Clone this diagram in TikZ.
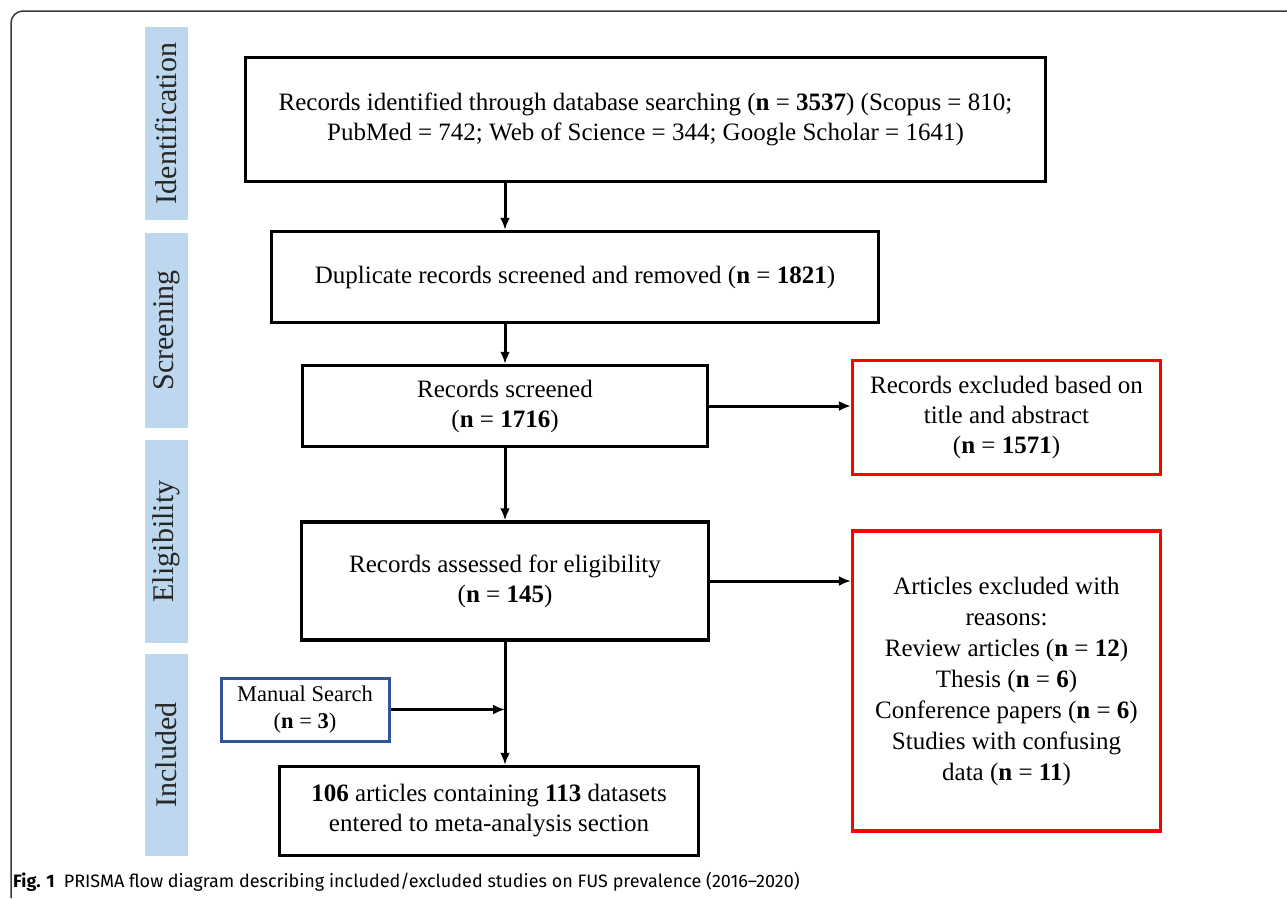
\documentclass[tikz,border=0pt]{standalone}
\usepackage{fontspec}
\setmainfont{Liberation Serif}
\newfontfamily\capfont{Fira Sans}
\usepackage{tikz}
\usetikzlibrary{arrows.meta}
\usetikzlibrary{positioning}

\definecolor{stageblue}{HTML}{BDD7EE}
\definecolor{exclred}{HTML}{FF0000}
\definecolor{manblue}{HTML}{2F5597}
\definecolor{framegray}{HTML}{3A3A3A}
\newcommand{\nval}[1]{(\textbf{n} = \textbf{#1})}

\begin{document}
\begin{tikzpicture}[x=1pt, y=-1pt, >={Latex[length=12pt,width=10pt]},
    stage/.style={fill=stageblue, rotate=90, minimum height=43pt, inner sep=0pt,
        text=black!85, font=\fontsize{30}{36}\selectfont},
    flowbox/.style={draw, line width=3.5pt, align=center, inner sep=0pt,
        font=\fontsize{25}{30}\selectfont},
    exclbox/.style={flowbox, draw=exclred, line width=3.2pt},
    manbox/.style={flowbox, draw=manblue, line width=3pt,
        font=\fontsize{22.5}{27}\selectfont},
    conn/.style={line width=3pt}]
        \useasboundingbox (0, 0) rectangle (1287, 898);

        % Frame
        \draw[framegray, line width=1.5pt, rounded corners=12pt] (11, 898) -- (11, 11) -- (1287, 11);

        % Stages
        \node[stage, minimum width=193pt] (idstage) at (166.5, 123.5) {Identification};
        \node[stage, minimum width=195pt] (scrstage) at (166.5, 330.5) {Screening};
        \node[stage, minimum width=203pt] (eligstage) at (166.5, 541.5) {Eligibility};
        \node[stage, minimum width=202pt] (inclstage) at (166.5, 755) {Included};

        % Boxes
        \node[flowbox, minimum width=800pt, minimum height=124pt] (idbox) at (645.5, 119.5)
            {Records identified through database searching \nval{3537} (Scopus = 810;\\
             PubMed = 742; Web of Science = 344; Google Scholar = 1641)};
        \node[flowbox, minimum width=607pt, minimum height=91pt] (dupbox) at (575, 277)
            {Duplicate records screened and removed \nval{1821}};
        \node[flowbox, minimum width=405pt, minimum height=81pt] (scrbox) at (505, 406)
            {Records screened\\ \nval{1716}};
        \node[exclbox, minimum width=308pt, minimum height=114pt] (titlebox) at (1006.5, 417.5)
            {Records excluded based on\\ title and abstract\\ \nval{1571}};
        \node[flowbox, minimum width=407pt, minimum height=118pt] (eligbox) at (505, 581)
            {Records assessed for eligibility\\ \nval{145}};
        \node[exclbox, minimum width=308pt, minimum height=300pt,
            font=\fontsize{25}{31}\selectfont] (reasonbox) at (1006.5, 681)
            {Articles excluded with\\ reasons:\\ Review articles \nval{12}\\ Thesis \nval{6}\\
             Conference papers \nval{6}\\ Studies with confusing\\ data \nval{11}};
        \node[manbox, minimum width=168pt, minimum height=63pt] (searchbox) at (305, 709.5)
            {Manual Search\\ \nval{3}};
        \node[flowbox, minimum width=419pt, minimum height=89pt] (finalbox) at (489, 811)
            {\textbf{106} articles containing \textbf{113} datasets\\ entered to meta-analysis section};

        % Arrows
        \draw[->, conn] (idbox.south -| scrbox) -- (dupbox.north -| scrbox);
        \draw[->, conn] (dupbox.south -| scrbox) -- (scrbox.north);
        \draw[->, conn] (scrbox.east) -- (scrbox.east -| titlebox.west);
        \draw[->, conn] (scrbox.south) -- (eligbox.north);
        \draw[->, conn] (eligbox.east) -- (eligbox.east -| reasonbox.west);
        \draw[->, conn] (eligbox.south) -- (eligbox.south |- finalbox.north);
        \draw[->, conn] (searchbox.east) -- (searchbox.east -| eligbox);

        % Caption
        \node[anchor=base west, inner sep=0pt, font=\capfont\fontsize{18}{21}\selectfont] (caption) at (13, 887)
            {\textbf{Fig. 1}\enspace PRISMA flow diagram describing included/excluded studies on FUS prevalence (2016–2020)};
    \end{tikzpicture}
\end{document}
